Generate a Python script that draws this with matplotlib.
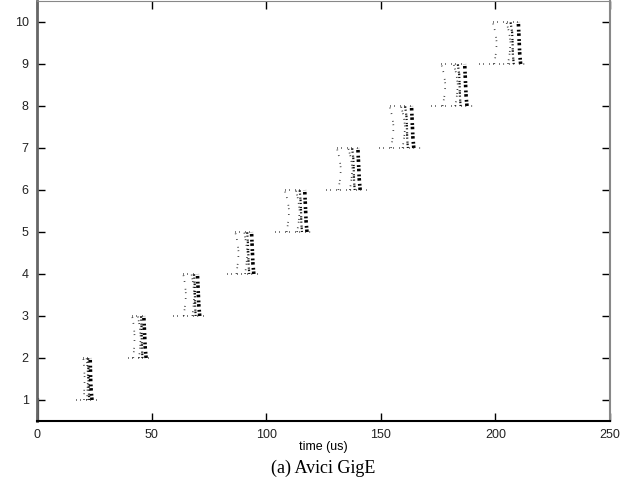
import matplotlib
matplotlib.use("Agg")
import matplotlib.pyplot as plt

# ---- data (time in us, one cluster per packet level) ----
levels = [1, 2, 3, 4, 5, 6, 7, 8, 9]
frac = [0.0, 0.25, 0.5, 0.75, 1.0]          # position inside each level
dense_x = [
    [24.0, 23.6, 23.4, 23.3, 23.2],
    [47.6, 47.2, 47.0, 46.8, 46.6],
    [71.0, 70.6, 70.4, 70.2, 70.0],
    [94.6, 94.2, 94.0, 93.8, 93.6],
    [117.8, 117.4, 117.2, 117.0, 116.8],
    [141.0, 140.6, 140.4, 140.2, 140.0],
    [164.4, 164.0, 163.8, 163.6, 163.4],
    [187.6, 187.2, 187.0, 186.8, 186.6],
    [211.0, 210.6, 210.4, 210.2, 210.0],
]
dense2_x = [
    [22.8, 22.6, 22.5, 22.4, 22.3],
    [46.0, 45.8, 45.7, 45.6, 45.4],
    [69.2, 69.0, 68.9, 68.8, 68.5],
    [92.6, 92.3, 92.2, 92.0, 91.7],
    [115.6, 115.3, 115.2, 115.0, 114.6],
    [138.6, 138.3, 138.2, 138.0, 137.5],
    [161.8, 161.5, 161.4, 161.2, 160.6],
    [184.8, 184.5, 184.4, 184.2, 183.6],
    [208.0, 207.6, 207.5, 207.3, 206.6],
]
mid_x = [
    [21.8, 22.0, 22.2, 22.0, 21.6],
    [44.5, 45.0, 45.2, 44.8, 44.0],
    [67.8, 68.3, 68.6, 68.2, 67.4],
    [90.8, 91.4, 91.8, 91.2, 90.4],
    [113.5, 114.2, 114.6, 114.0, 113.0],
    [136.5, 137.2, 137.6, 137.0, 135.8],
    [159.5, 160.2, 160.6, 160.0, 158.8],
    [182.5, 183.2, 183.6, 183.0, 181.8],
    [205.5, 206.2, 206.6, 206.0, 204.8],
]
left_x = [
    [20.5, 20.6, 20.8, 20.6, 20.2],
    [42.0, 42.4, 42.6, 42.3, 41.5],
    [64.0, 64.6, 65.0, 64.6, 63.8],
    [87.0, 87.6, 88.0, 87.5, 86.5],
    [109.0, 109.6, 110.0, 109.4, 108.0],
    [131.5, 132.2, 132.6, 132.0, 130.8],
    [154.5, 155.2, 155.6, 155.0, 153.8],
    [177.0, 177.8, 178.2, 177.6, 176.4],
    [199.5, 200.2, 200.6, 200.0, 198.8],
]
lead_start = [17.0, 39.5, 59.5, 83.0, 104.0, 126.0, 149.0, 172.0, 193.0]
tail_end = [26.0, 49.5, 73.0, 97.0, 120.5, 144.0, 167.5, 191.0, 214.5]

xticks = [0, 50, 100, 150, 200, 250]
yticks = [1, 2, 3, 4, 5, 6, 7, 8, 9, 10]

fig = plt.figure(figsize=(6.42, 4.8), dpi=100)
ax = fig.add_axes([37 / 642, 59 / 480, 573 / 642, 420 / 480])

sparse_a = (0, (0.5, 3.0, 0.5, 1.6, 0.5, 4.2))
sparse_b = (0, (0.5, 1.8, 0.5, 2.9, 0.5, 1.2))
dense_a = (0, (0.7, 0.5, 0.5, 0.9))
dense_b = (0, (0.5, 0.8, 0.7, 0.4, 0.5, 1.3))
row = (0, (0.5, 2.2, 0.5, 3.4))

for i, k in enumerate(levels):
    ys = [k + f for f in frac]
    ax.plot(left_x[i], ys, color="#333333", lw=1.2, ls=sparse_a)
    ax.plot(mid_x[i], ys, color="#222222", lw=1.2, ls=sparse_b)
    ax.plot(dense2_x[i], ys, color="#111111", lw=1.6, ls=dense_b)
    ax.plot(dense_x[i], ys, color="black", lw=2.6, ls=dense_a)
    # bottom trail and top row
    ax.plot([lead_start[i], tail_end[i]], [k, k], color="#222222", lw=1.1,
            ls=row)
    ax.plot([left_x[i][-1], dense_x[i][-1]], [k + 1, k + 1], color="#222222",
            lw=1.1, ls=row)

ax.set_xlim(0, 250)
ax.set_ylim(0.5, 10.5)
ax.set_xticks(xticks)
ax.set_yticks(yticks)
ax.tick_params(direction="in", length=6, width=1, top=True, right=True,
               labelsize=9, pad=6)
for lab in ax.get_xticklabels() + ax.get_yticklabels():
    lab.set_fontfamily("Liberation Sans")
    lab.set_color("#222222")

ax.spines["bottom"].set_linewidth(1.5)
ax.spines["left"].set_linewidth(2.0)
ax.spines["left"].set_color("#666666")
ax.spines["top"].set_color("#888888")
ax.spines["right"].set_color("#888888")
ax.spines["right"].set_linewidth(1.5)
ax.axvline(0, ymin=0, ymax=0.05, color="black", lw=3)

fig.text(323 / 642, 1 - 447 / 480, "time (us)", ha="center", va="center",
         fontsize=9, family="Liberation Sans")
fig.text(323 / 642, 1 - 468 / 480, "(a) Avici GigE", ha="center", va="center",
         fontsize=13, family="Liberation Serif")

fig.savefig("out.png", dpi=100)
